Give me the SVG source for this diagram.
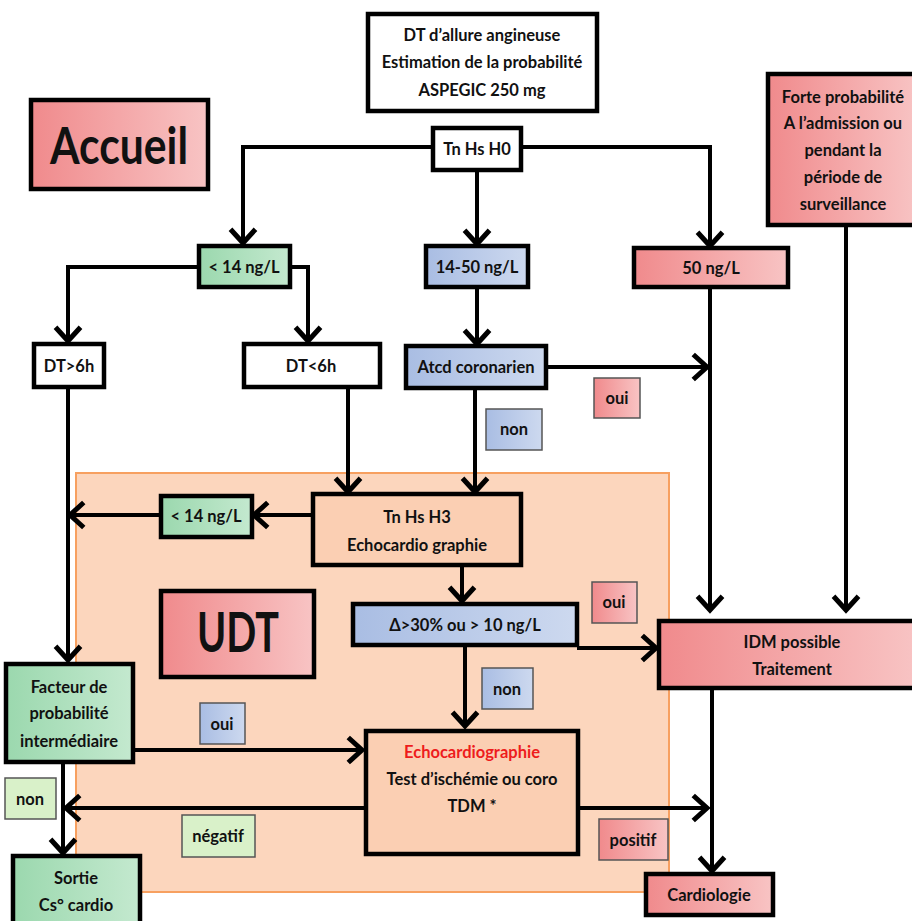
<svg xmlns="http://www.w3.org/2000/svg" width="912" height="921" viewBox="0 0 912 921">
<defs>
<linearGradient id="gPink" x1="0" y1="0" x2="1" y2="0"><stop offset="0" stop-color="#f08a8c"/><stop offset="1" stop-color="#f8c4c4"/></linearGradient>
<linearGradient id="gGreen" x1="0" y1="0" x2="1" y2="0"><stop offset="0" stop-color="#9bd8ae"/><stop offset="1" stop-color="#c4e9cf"/></linearGradient>
<linearGradient id="gBlue" x1="0" y1="0" x2="1" y2="0"><stop offset="0" stop-color="#a9bde3"/><stop offset="1" stop-color="#cdd9ef"/></linearGradient>
<marker id="ah" markerUnits="userSpaceOnUse" markerWidth="30" markerHeight="30" viewBox="-14 -12 18 24" refX="0" refY="0" orient="auto">
<path d="M-11,-10 L0,0 L-11,10" fill="none" stroke="#000" stroke-width="4" stroke-linejoin="miter"/>
</marker>
</defs>
<style>
text{font-family:Lato,"Open Sans","Liberation Sans",sans-serif;font-weight:bold;font-size:16.5px;fill:#111;text-anchor:middle}
.box{stroke:#000;stroke-width:4.5}
.lbl{stroke:#555;stroke-width:1.5}
.w{fill:#fff}
.pk{fill:url(#gPink)}
.gr{fill:url(#gGreen)}
.bl{fill:url(#gBlue)}
.pe{fill:#fbcfb3}
.lg{fill:#d9f1c9}
.big{font-size:52px}
#connectors path{fill:none;stroke:#000;stroke-width:4}
</style>
<rect width="912" height="921" fill="#fff"/>
<g id="udt-zone"><rect x="76" y="473" width="593" height="419" fill="#fcd6bd" stroke="#f7a060" stroke-width="2"/></g>
<g id="connectors">
<path d="M432,147 H243 V243" marker-end="url(#ah)"/>
<path d="M477,170 V244" marker-end="url(#ah)"/>
<path d="M521,147 H710 V246" marker-end="url(#ah)"/>
<path d="M198,267 H68 V341" marker-end="url(#ah)"/>
<path d="M290,267 H308 V341" marker-end="url(#ah)"/>
<path d="M477,288 V344" marker-end="url(#ah)"/>
<path d="M546,367 H707" marker-end="url(#ah)"/>
<path d="M475,388 V492" marker-end="url(#ah)"/>
<path d="M710,287 V610" marker-end="url(#ah)"/>
<path d="M846,225 V610" marker-end="url(#ah)"/>
<path d="M348,387 V492" marker-end="url(#ah)"/>
<path d="M312,515 H254" marker-end="url(#ah)"/>
<path d="M160,515 H70" marker-end="url(#ah)"/>
<path d="M68,387 V660" marker-end="url(#ah)"/>
<path d="M462,565 V601" marker-end="url(#ah)"/>
<path d="M577,648 H656" marker-end="url(#ah)"/>
<path d="M465,645 V726" marker-end="url(#ah)"/>
<path d="M133,750 H362" marker-end="url(#ah)"/>
<path d="M365,808 H66" marker-end="url(#ah)"/>
<path d="M63,762 V853" marker-end="url(#ah)"/>
<path d="M578,808 H707" marker-end="url(#ah)"/>
<path d="M712,688 V871" marker-end="url(#ah)"/>
</g>
<g id="n-dt"><rect class="box w" x="368" y="14" width="229" height="97"/><text x="482" y="41">DT d’allure angineuse</text><text x="482" y="68">Estimation de la probabilité</text><text x="482" y="96">ASPEGIC 250 mg</text></g>
<g id="n-h0"><rect class="box w" x="433" y="128" width="88" height="42"/><text x="477" y="155">Tn Hs H0</text></g>
<g id="n-accueil"><rect class="box pk" x="31" y="100" width="177" height="89"/><text class="big" x="119" y="164" textLength="138" lengthAdjust="spacingAndGlyphs">Accueil</text></g>
<g id="n-forte"><rect class="box pk" x="768" y="74" width="150" height="151"/><text x="843" y="103">Forte probabilité</text><text x="843" y="129">A l’admission ou</text><text x="843" y="156">pendant la</text><text x="843" y="183">période de</text><text x="843" y="210">surveillance</text></g>
<g id="n-lt14"><rect class="box gr" x="199" y="246" width="91" height="41"/><text x="244" y="273">&lt; 14 ng/L</text></g>
<g id="n-1450"><rect class="box bl" x="426" y="246" width="102" height="41"/><text x="477" y="273">14-50 ng/L</text></g>
<g id="n-50"><rect class="box pk" x="634" y="248" width="154" height="39"/><text x="711" y="274">50 ng/L</text></g>
<g id="n-dtgt6"><rect class="box w" x="34" y="344" width="70" height="43"/><text x="69" y="372">DT&gt;6h</text></g>
<g id="n-dtlt6"><rect class="box w" x="244" y="344" width="136" height="43"/><text x="311" y="372">DT&lt;6h</text></g>
<g id="n-atcd"><rect class="box bl" x="406" y="346" width="140" height="42"/><text x="476" y="373">Atcd coronarien</text></g>
<g id="l-oui1"><rect class="lbl pk" x="594" y="378" width="46" height="40"/><text x="617" y="404">oui</text></g>
<g id="l-non1"><rect class="lbl bl" x="486" y="409" width="56" height="41"/><text x="514" y="435">non</text></g>
<g id="n-h3"><rect class="box pe" x="313" y="494" width="208" height="71"/><text x="417" y="523">Tn Hs H3</text><text x="417" y="551">Echocardio graphie</text></g>
<g id="n-lt14b"><rect class="box gr" x="161" y="496" width="91" height="41"/><text x="206" y="522">&lt; 14 ng/L</text></g>
<g id="n-udt"><rect class="box pk" x="161" y="591" width="153" height="86"/><text class="big" x="238" y="652" textLength="82" lengthAdjust="spacingAndGlyphs" style="font-size:55px">UDT</text></g>
<g id="n-delta"><rect class="box bl" x="353" y="604" width="224" height="41"/><text x="465" y="631">Δ&gt;30% ou &gt; 10 ng/L</text></g>
<g id="l-oui2"><rect class="lbl pk" x="592" y="582" width="45" height="41"/><text x="614" y="608">oui</text></g>
<g id="n-idm"><rect class="box pk" x="659" y="621" width="259" height="67"/><text x="792" y="648">IDM possible</text><text x="792" y="675">Traitement</text></g>
<g id="l-non3"><rect class="lbl bl" x="482" y="668" width="51" height="41"/><text x="507" y="695">non</text></g>
<g id="n-facteur"><rect class="box gr" x="6" y="664" width="127" height="98"/><text x="69" y="693">Facteur de</text><text x="69" y="719">probabilité</text><text x="69" y="747">intermédiaire</text></g>
<g id="l-oui3"><rect class="lbl bl" x="200" y="703" width="45" height="41"/><text x="222" y="730">oui</text></g>
<g id="n-echo"><rect class="box pe" x="366" y="731" width="212" height="123"/><text x="472" y="758" style="fill:#ee1c1c">Echocardiographie</text><text x="472" y="785">Test d’ischémie ou coro</text><text x="472" y="812">TDM *</text></g>
<g id="l-non4"><rect class="lbl lg" x="5" y="778" width="51" height="41"/><text x="30" y="805">non</text></g>
<g id="l-negatif"><rect class="lbl lg" x="182" y="815" width="73" height="42"/><text x="218" y="842">négatif</text></g>
<g id="l-positif"><rect class="lbl pk" x="599" y="819" width="69" height="41"/><text x="633" y="846">positif</text></g>
<g id="n-sortie"><rect class="box gr" x="13" y="856" width="127" height="70"/><text x="76" y="884">Sortie</text><text x="76" y="911">Cs° cardio</text></g>
<g id="n-cardio"><rect class="box pk" x="646" y="874" width="127" height="41"/><text x="709" y="901">Cardiologie</text></g>
</svg>
